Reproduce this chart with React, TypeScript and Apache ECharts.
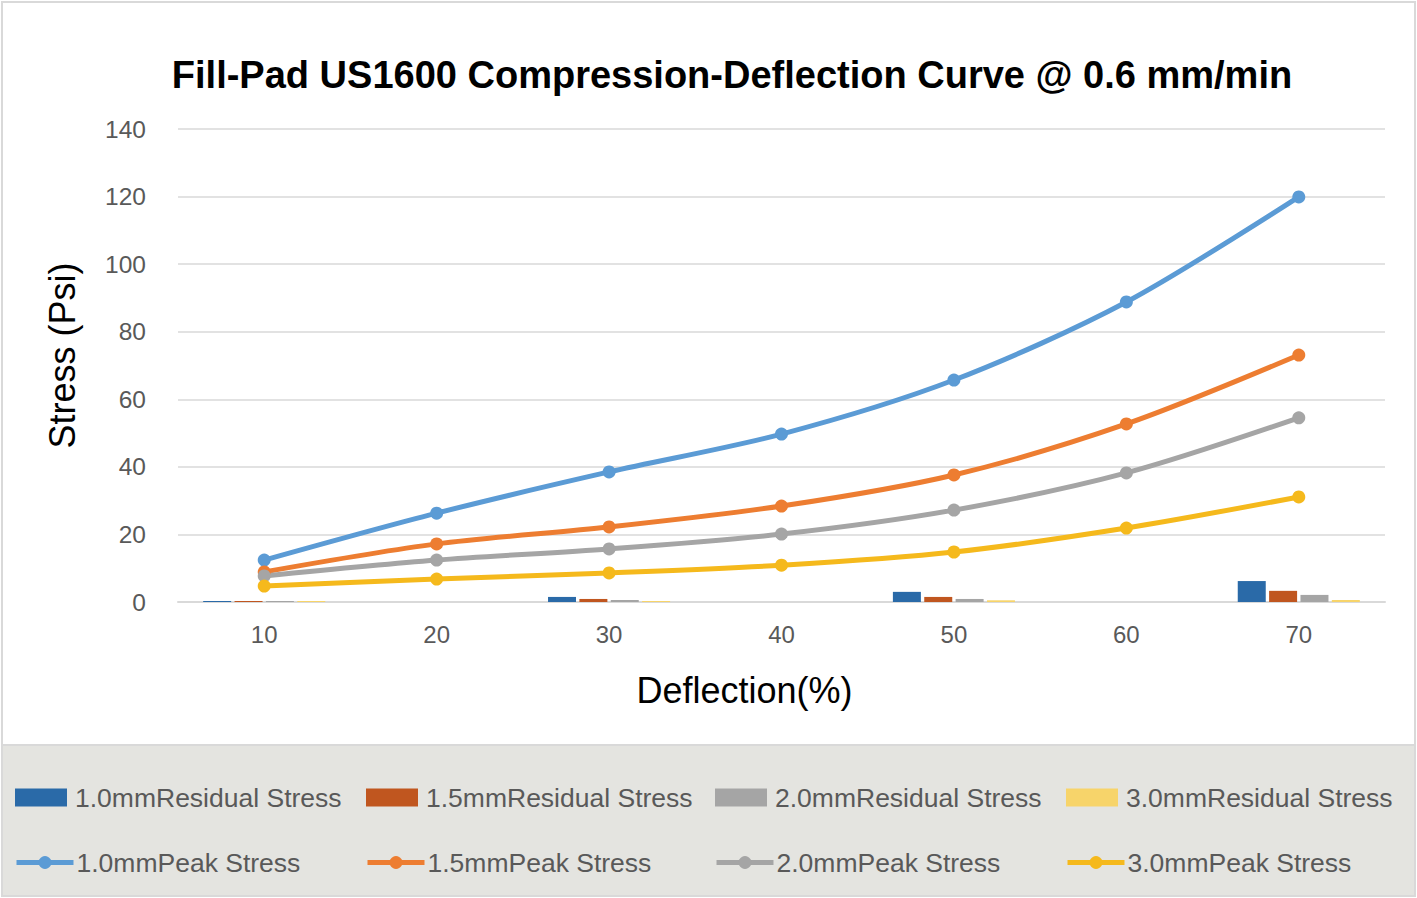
import React, { useEffect, useRef } from "react";
import * as echarts from "echarts";

const categories = ["10", "20", "30", "40", "50", "60", "70"];
const yTicks = [0, 20, 40, 60, 80, 100, 120, 140];

const residual10 = [0.3, null, 1.5, null, 3.0, null, 6.2];
const residual15 = [0.3, null, 0.9, null, 1.5, null, 3.3];
const residual20 = [0.3, null, 0.6, null, 0.9, null, 2.1];
const residual30 = [0.3, null, 0.3, null, 0.5, null, 0.6];

const peak10 = [12.4, 26.3, 38.5, 49.7, 65.7, 88.8, 119.9];
const peak15 = [8.9, 17.2, 22.2, 28.4, 37.6, 52.7, 73.1];
const peak20 = [7.7, 12.4, 15.7, 20.1, 27.2, 38.2, 54.5];
const peak30 = [4.7, 6.8, 8.6, 10.9, 14.8, 21.9, 31.1];

const barNames = ["1.0mmResidual Stress", "1.5mmResidual Stress", "2.0mmResidual Stress", "3.0mmResidual Stress"];
const lineNames = ["1.0mmPeak Stress", "1.5mmPeak Stress", "2.0mmPeak Stress", "3.0mmPeak Stress"];
const barColors = ["#2a6aa8", "#c0561f", "#a5a5a5", "#f7d46a"];
const lineColors = ["#5b9bd5", "#ed7d31", "#a5a5a5", "#f5b91c"];

export default function App() {
  const ref = useRef<HTMLDivElement>(null);
  useEffect(() => {
    document.body.style.margin = "0";
    const chart = echarts.init(ref.current!, null, { renderer: "svg" });
    const barData = [residual10, residual15, residual20, residual30];
    const lineData = [peak10, peak15, peak20, peak30];
    const font = "Liberation Sans, Arial, sans-serif";
    const colX = [15, 366, 715, 1066];
    const legends: any[] = [];
    barNames.forEach((n, i) =>
      legends.push({
        data: [n],
        left: colX[i],
        top: 784,
        padding: 0,
        itemWidth: 52,
        itemHeight: 18,
        itemGap: 0,
        icon: "rect",
        textStyle: { fontFamily: font, fontSize: 26.5, color: "#595959", padding: [0, 0, 0, 3] },
      })
    );
    lineNames.forEach((n, i) =>
      legends.push({
        data: [n],
        left: colX[i] - 1,
        top: 849,
        padding: 0,
        itemWidth: 57,
        itemHeight: 16,
        itemGap: 0,
        lineStyle: { width: 5 },
        textStyle: { fontFamily: font, fontSize: 26.5, color: "#595959", padding: [0, 0, 0, -2] },
      })
    );
    const series: any[] = [];
    barNames.forEach((n, i) =>
      series.push({
        name: n,
        type: "bar",
        data: barData[i],
        barWidth: 28,
        barGap: "12%",
        itemStyle: { color: barColors[i] },
        z: 1,
      })
    );
    lineNames.forEach((n, i) =>
      series.push({
        name: n,
        type: "line",
        data: lineData[i],
        smooth: 0.3,
        symbol: "circle",
        symbolSize: 13,
        lineStyle: { color: lineColors[i], width: 5 },
        itemStyle: { color: lineColors[i] },
        z: 3,
      })
    );
    chart.setOption({
      animation: false,
      backgroundColor: "#ffffff",
      textStyle: { fontFamily: font },
      graphic: [
        {
          type: "rect",
          shape: { x: 2, y: 2, width: 1413, height: 743 },
          style: { fill: "#ffffff", stroke: "#d9d9d9", lineWidth: 2 },
          z: -10,
          silent: true,
        },
        {
          type: "rect",
          shape: { x: 2, y: 745, width: 1413, height: 151 },
          style: { fill: "#e4e4e0", stroke: "#d9d9d9", lineWidth: 2 },
          z: -10,
          silent: true,
        },
      ],
      title: {
        text: "Fill-Pad US1600 Compression-Deflection Curve @ 0.6 mm/min",
        left: 727,
        textAlign: "center",
        top: 51,
        textStyle: { fontFamily: font, fontSize: 38, fontWeight: "bold", color: "#000000" },
      },
      legend: legends,
      grid: { left: 178, right: 32, top: 129, bottom: 296 },
      xAxis: {
        type: "category",
        data: categories,
        boundaryGap: true,
        name: "Deflection(%)",
        nameLocation: "middle",
        nameGap: 70,
        nameTextStyle: { fontFamily: font, fontSize: 36, color: "#000000", padding: [0, 74, 0, 0] },
        axisLine: { lineStyle: { color: "#d9d9d9", width: 2 } },
        axisTick: { show: false },
        axisLabel: { fontSize: 24, color: "#595959", margin: 20, fontFamily: font },
      },
      yAxis: {
        type: "value",
        min: yTicks[0],
        max: yTicks[yTicks.length - 1],
        interval: 20,
        name: "Stress (Psi)",
        nameLocation: "middle",
        nameGap: 98,
        nameTextStyle: { fontFamily: font, fontSize: 36, color: "#000000", padding: [0, 0, 0, 20] },
        axisLine: { show: false },
        axisTick: { show: false },
        splitLine: { lineStyle: { color: "#d9d9d9", width: 1.5 } },
        axisLabel: { fontSize: 24.5, color: "#595959", margin: 32, fontFamily: font },
      },
      series,
    });
    return () => chart.dispose();
  }, []);
  return <div ref={ref} style={{ width: 1417, height: 898 }} />;
}
